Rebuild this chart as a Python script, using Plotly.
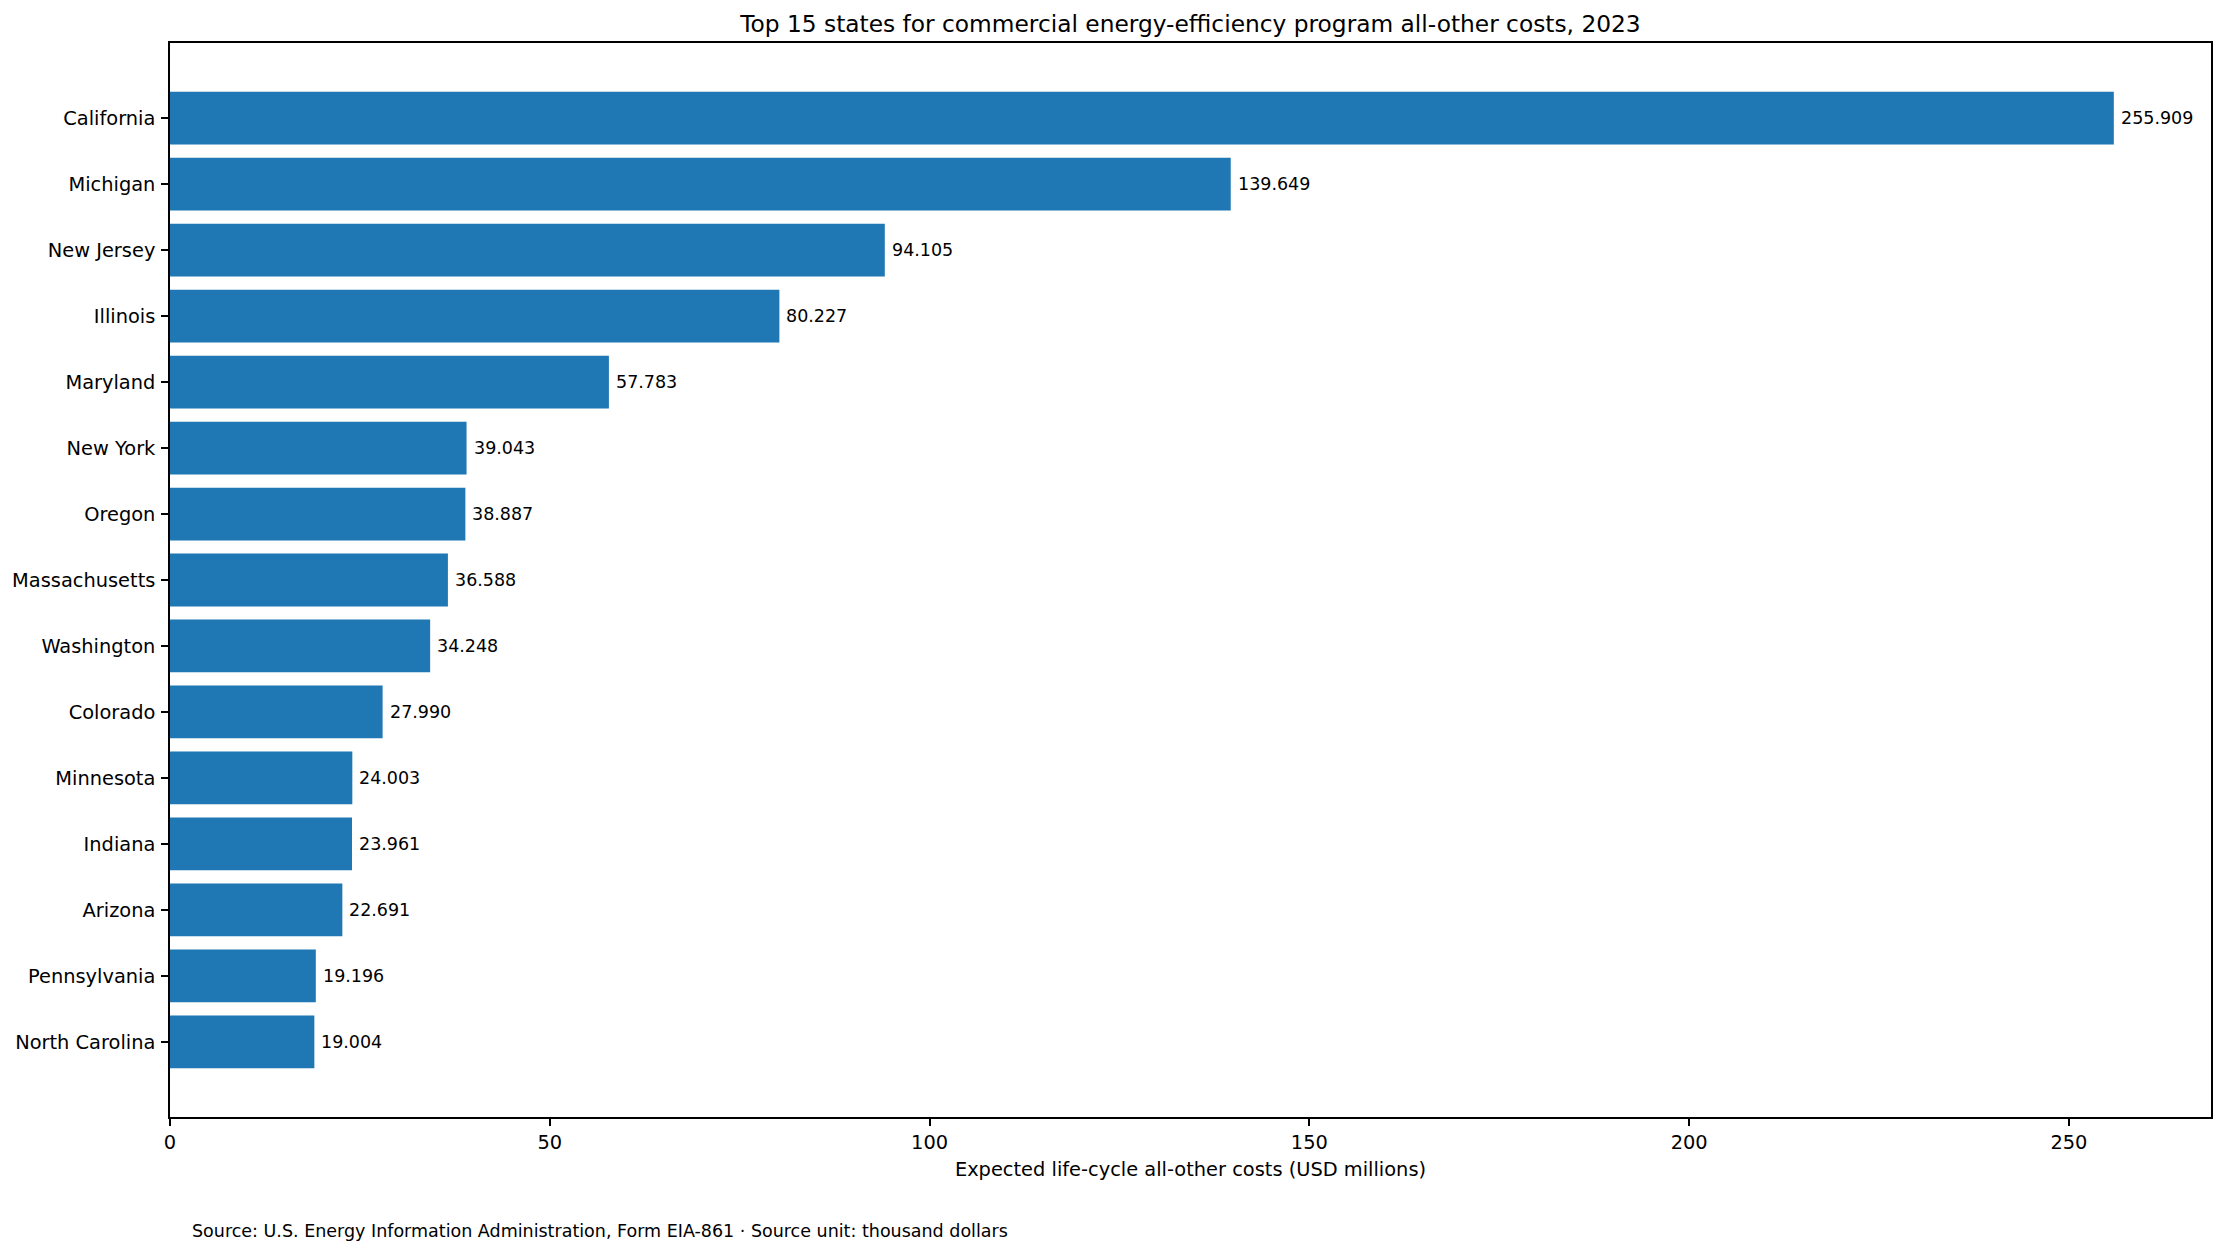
import plotly.graph_objects as go

# top 15 states, all-other costs (USD millions)
states = ["California", "Michigan", "New Jersey", "Illinois", "Maryland",
          "New York", "Oregon", "Massachusetts", "Washington", "Colorado",
          "Minnesota", "Indiana", "Arizona", "Pennsylvania", "North Carolina"]
costs = [255.909, 139.649, 94.105, 80.227, 57.783,
         39.043, 38.887, 36.588, 34.248, 27.990,
         24.003, 23.961, 22.691, 19.196, 19.004]
x_ticks = [0, 50, 100, 150, 200, 250]

font = "DejaVu Sans"
# page body has an 8px margin, so the figure is made a bit smaller
W, H = 2226 - 8, 1255 - 8

fig = go.Figure(go.Bar(
    x=costs, y=states, orientation="h", width=0.8,
    marker=dict(color="#1f77b4", line=dict(width=0)),
))

# value labels just right of each bar
for s, v in zip(states, costs):
    fig.add_annotation(x=v, y=s, text=f"{v:.3f}", showarrow=False,
                       xanchor="left", yanchor="middle", xshift=5,
                       font=dict(family=font, size=17.5, color="black"))

n = len(states)
pad = 0.05 * (n - 1 + 0.8)
fig.update_layout(
    width=W, height=H,
    margin=dict(l=162, r=15, t=35, b=138),
    plot_bgcolor="white", paper_bgcolor="white",
    showlegend=False,
    font=dict(family=font, size=19.4, color="black"),
    title=dict(text="Top 15 states for commercial energy-efficiency program all-other costs, 2023",
               x=0.5, xref="paper", xanchor="center",
               y=1 - 16 / H, yref="container", yanchor="middle",
               font=dict(family=font, size=23.3, color="black")),
    xaxis=dict(range=[0, max(costs) * 1.05], tickvals=x_ticks, automargin=False,
               showgrid=False, zeroline=False,
               showline=True, mirror=True, linecolor="black", linewidth=1.5,
               ticks="outside", ticklen=7, tickwidth=1.5, tickcolor="black",
               ticklabelstandoff=0,
               title=dict(text="Expected life-cycle all-other costs (USD millions)",
                          standoff=9, font=dict(size=19.4))),
    yaxis=dict(type="category", categoryorder="array", categoryarray=states,
               range=[n - 1 + 0.4 + pad, -0.4 - pad], automargin=False,
               showgrid=False, zeroline=False,
               showline=True, mirror=True, linecolor="black", linewidth=1.5,
               ticks="outside", ticklen=7, tickwidth=1.5, tickcolor="black",
               ticklabelstandoff=2),
)

fig.add_annotation(
    text="Source: U.S. Energy Information Administration, Form EIA-861 · Source unit: thousand dollars",
    xref="paper", yref="paper", x=(190 - 170) / (2211 - 170), y=-(1232 - 1118) / (1118 - 43),
    xanchor="left", yanchor="middle", showarrow=False,
    font=dict(family=font, size=17.5, color="black"),
)

fig.write_html("out.html")
